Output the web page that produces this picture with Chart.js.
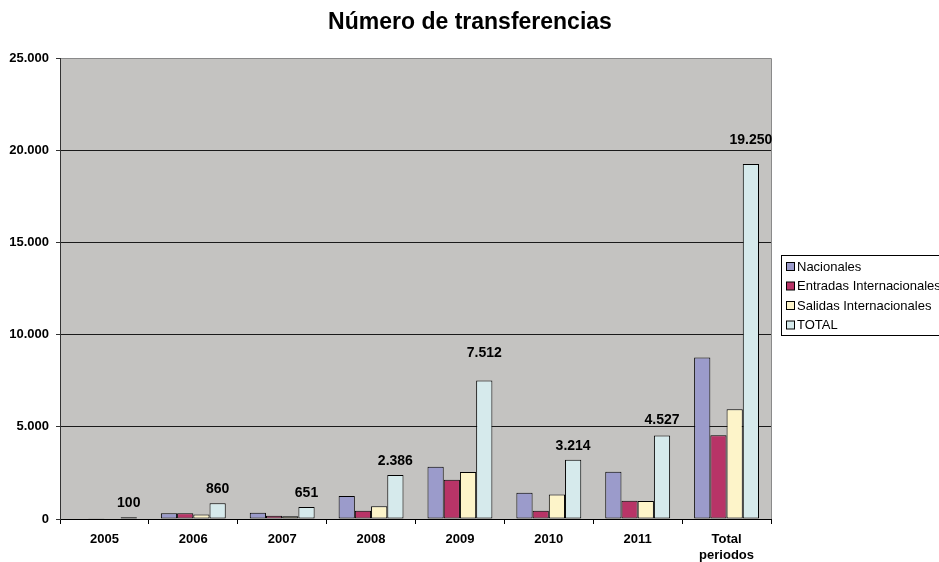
<!DOCTYPE html>
<html>
<head>
<meta charset="utf-8">
<title>Número de transferencias</title>
<script src="https://cdn.jsdelivr.net/npm/chart.js@4.4.1/dist/chart.umd.min.js"></script>
<style>
  html, body { margin: 0; padding: 0; background: #fff; overflow: hidden; }
  #wrap { width: 939px; height: 562px; position: relative; }
</style>
</head>
<body>
<div id="wrap"><canvas id="chart" width="939" height="562"></canvas></div>
<script>
// values
const years = ["2005", "2006", "2007", "2008", "2009", "2010", "2011", ["Total", "periodos"]];
const nacionales = [30, 310, 340, 1250, 2836, 1430, 2565, 8760];
const entradas = [40, 310, 170, 450, 2130, 450, 990, 4540];
const salidas = [30, 240, 150, 690, 2550, 1334, 975, 5950];
const total = [100, 860, 651, 2386, 7512, 3214, 4527, 19250];
const seriesNames = ["Nacionales", "Entradas Internacionales", "Salidas Internacionales", "TOTAL"];
const yTicks = [0, 5000, 10000, 15000, 20000, 25000];

const colors = ["#9b9bcb", "#b83467", "#fdf4c9", "#d6eaec"];
const font = "'Liberation Sans', Arial, sans-serif";
// how far above each TOTAL bar its label sits (px)
const labelLift = [14, 14, 14, 14, 27, 14, 15, 24];

function fmt(v) {
  return String(v).replace(/\B(?=(\d{3})+(?!\d))/g, ".");
}

const plotBg = {
  id: "plotBg",
  beforeDraw(chart) {
    const { ctx, chartArea: a } = chart;
    ctx.save();
    ctx.fillStyle = "#c4c3c1";
    ctx.fillRect(a.left, a.top, a.right - a.left, a.bottom - a.top);
    ctx.strokeStyle = "#8a8a8a";
    ctx.lineWidth = 1;
    ctx.beginPath();
    ctx.moveTo(a.left, a.top + 0.5);
    ctx.lineTo(a.right + 0.5, a.top + 0.5);
    ctx.lineTo(a.right + 0.5, a.bottom);
    ctx.stroke();
    ctx.restore();
  },
};

const extras = {
  id: "extras",
  afterDraw(chart) {
    const { ctx } = chart;
    ctx.save();
    // title
    ctx.fillStyle = "#000";
    ctx.font = "bold 23px " + font;
    ctx.textAlign = "center";
    ctx.textBaseline = "middle";
    ctx.fillText("Número de transferencias", 470, 23);

    // value labels over TOTAL bars
    const meta = chart.getDatasetMeta(3);
    ctx.font = "bold 14px " + font;
    meta.data.forEach((bar, i) => {
      ctx.fillText(fmt(total[i]), bar.x, bar.y - labelLift[i]);
    });

    // legend box
    ctx.fillStyle = "#fff";
    ctx.fillRect(781.5, 255.5, 170, 80);
    ctx.strokeStyle = "#000";
    ctx.lineWidth = 1;
    ctx.strokeRect(781.5, 255.5, 170, 80);
    ctx.font = "13px " + font;
    ctx.textAlign = "left";
    seriesNames.forEach((name, i) => {
      const y = 267 + i * 19.5;
      ctx.fillStyle = colors[i];
      ctx.fillRect(786.5, y - 4.5, 8, 8);
      ctx.strokeStyle = "#000";
      ctx.strokeRect(786.5, y - 4.5, 8, 8);
      ctx.fillStyle = "#000";
      ctx.fillText(name, 797, y);
    });
    ctx.restore();
  },
};

const datasets = [nacionales, entradas, salidas, total].map((d, i) => ({
  label: seriesNames[i],
  data: d,
  backgroundColor: colors[i],
  borderColor: "#000",
  borderWidth: 1,
  borderSkipped: false,
  categoryPercentage: 0.73,
  barPercentage: 1,
}));

new Chart(document.getElementById("chart"), {
  type: "bar",
  data: { labels: years, datasets },
  options: {
    responsive: false,
    animation: false,
    devicePixelRatio: 1,
    layout: { padding: { top: 58, right: 168, left: 0, bottom: 0 } },
    plugins: {
      legend: { display: false },
      title: { display: false },
      tooltip: { enabled: false },
    },
    scales: {
      x: {
        grid: {
          drawOnChartArea: false,
          offset: true,
          tickLength: 5,
          color: "#000",
        },
        border: { color: "#000", width: 1 },
        ticks: {
          color: "#000",
          padding: 8,
          maxRotation: 0,
          font: { family: font, size: 13, weight: "bold", lineHeight: 1.2 },
        },
        afterFit(scale) { scale.height = 43; },
      },
      y: {
        min: 0,
        max: 25000,
        afterBuildTicks(scale) { scale.ticks = yTicks.map((v) => ({ value: v })); },
        grid: {
          color: (c) => (c.tick && c.tick.value === 25000 ? "#8a8a8a" : "#1a1a1a"),
          tickColor: "#333",
          tickLength: 4,
        },
        border: { color: "#333", width: 1 },
        ticks: {
          color: "#000",
          padding: 7,
          callback: (v) => fmt(v),
          font: { family: font, size: 13, weight: "bold" },
        },
        afterFit(scale) { scale.width = 60; },
      },
    },
  },
  plugins: [plotBg, extras],
});
</script>
</body>
</html>
